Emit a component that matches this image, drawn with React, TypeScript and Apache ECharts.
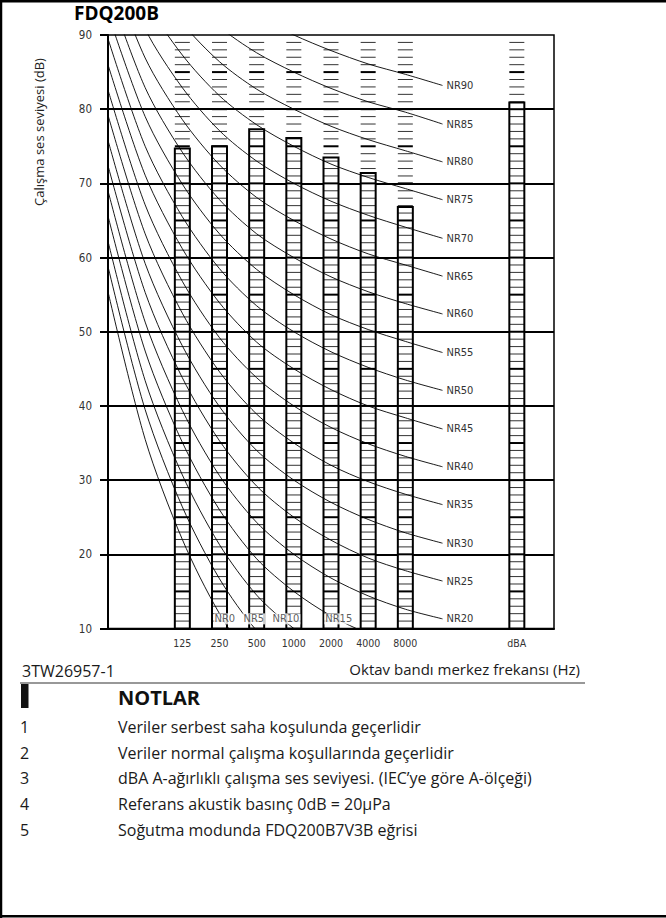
import React, { useEffect, useRef } from "react";
import * as echarts from "echarts";

// ---------- data ----------
const bandLabels = ["125", "250", "500", "1000", "2000", "4000", "8000"];
const bandPositions = [2, 3, 4, 5, 6, 7, 8];
const bandLevels = [74.7, 75.0, 77.3, 76.1, 73.5, 71.4, 66.8];
const dbaLabel = "dBA";
const dbaPosition = 11;
const dbaLevel = 80.9;

// NR curve points at 31.5, 63, 125, 250, 500, 1000, 2000, 4000, 8000 Hz
const curvePositions = [0, 1, 2, 3, 4, 5, 6, 7, 8];
const nrLevels = [0, 5, 10, 15, 20, 25, 30, 35, 40, 45, 50, 55, 60, 65, 70, 75, 80, 85, 90];
const nrCurves = [
  [55.4, 35.5, 22.0, 12.0, 4.8, 0, -3.5, -6.1, -8.0],
  [58.8, 39.5, 26.4, 16.7, 9.7, 5, 1.6, -1.0, -2.9],
  [62.2, 43.4, 30.7, 21.3, 14.5, 10, 6.7, 4.2, 2.3],
  [65.6, 47.4, 35.1, 26.0, 19.4, 15, 11.7, 9.3, 7.5],
  [69.0, 51.3, 39.4, 30.6, 24.3, 20, 16.8, 14.4, 12.6],
  [72.4, 55.3, 43.8, 35.3, 29.2, 25, 21.9, 19.5, 17.8],
  [75.8, 59.2, 48.1, 39.9, 34.0, 30, 27.0, 24.7, 22.9],
  [79.2, 63.2, 52.5, 44.6, 38.9, 35, 32.0, 29.8, 28.1],
  [82.6, 67.1, 56.8, 49.2, 43.8, 40, 37.1, 34.9, 33.2],
  [86.0, 71.1, 61.2, 53.9, 48.6, 45, 42.2, 40.0, 38.4],
  [89.5, 75.0, 65.5, 58.5, 53.5, 50, 47.3, 45.2, 43.5],
  [92.9, 79.0, 69.9, 63.2, 58.4, 55, 52.3, 50.3, 48.7],
  [96.3, 82.9, 74.2, 67.8, 63.2, 60, 57.4, 55.4, 53.8],
  [99.7, 86.9, 78.6, 72.5, 68.1, 65, 62.5, 60.5, 59.0],
  [103.1, 90.8, 82.9, 77.1, 73.0, 70, 67.6, 65.7, 64.1],
  [106.5, 94.8, 87.3, 81.8, 77.9, 75, 72.6, 70.8, 69.3],
  [109.9, 98.7, 91.6, 86.4, 82.7, 80, 77.7, 75.9, 74.4],
  [113.3, 102.7, 96.0, 91.1, 87.6, 85, 82.8, 81.0, 79.6],
  [116.7, 106.6, 100.3, 95.7, 92.5, 90, 87.9, 86.1, 84.7],
];
// right-hand label anchors (NR20 ... NR90)
const nrLabelPosition = 9;
const nrLabelLevels = [null, null, null, null, 11.3, 16.4, 21.5, 26.7, 31.8, 36.9, 42.1, 47.2, 52.4, 57.5, 62.6, 67.8, 72.9, 78.0, 83.2];
// bottom labels (NR0 ... NR15)
const bottomLabelNames = ["NR0", "NR5", "NR10", "NR15"];
const bottomLabelPositions = [2.84, 3.62, 4.4, 5.82];
const bottomLabelLevel = 11.3;

const yMin = 10;
const yMax = 90;
const yStep = 10;
const xMin = 0;
const xMax = 12;

const titleText = "FDQ200B";
const yAxisTitle = "Çalışma ses seviyesi (dB)";
const xAxisTitle = "Oktav bandı merkez frekansı (Hz)";
const drawingCode = "3TW26957-1";
const notesTitle = "NOTLAR";
const noteNumbers = ["1", "2", "3", "4", "5"];
const noteTexts = [
  "Veriler serbest saha koşulunda geçerlidir",
  "Veriler normal çalışma koşullarında geçerlidir",
  "dBA A-ağırlıklı çalışma ses seviyesi. (IEC’ye göre A-ölçeği)",
  "Referans akustik basınç 0dB = 20µPa",
  "Soğutma modunda FDQ200B7V3B eğrisi",
];

const NARROW = '"Liberation Sans Narrow", "DejaVu Sans Condensed", "Arial Narrow", sans-serif';
const HUMAN = '"Open Sans", "Noto Sans", sans-serif';

export default function App() {
  const ref = useRef<HTMLDivElement>(null);

  useEffect(() => {
    if (!ref.current) return;
    const chart = echarts.init(ref.current, undefined, { renderer: "svg" });

    const xLabelMap: Record<number, string> = {};
    bandPositions.forEach((p, i) => (xLabelMap[p] = bandLabels[i]));
    xLabelMap[dbaPosition] = dbaLabel;

    const barData = bandPositions.map((p, i) => [p, bandLevels[i]]);
    barData.push([dbaPosition, dbaLevel]);

    const BAR_W = 15;

    const barSeries = {
      type: "custom",
      z: 2,
      data: barData,
      encode: { x: 0, y: 1 },
      renderItem: (params: any, api: any) => {
        const x = api.value(0);
        const v = api.value(1);
        const top = api.coord([x, v]);
        const base = api.coord([x, yMin]);
        const left = top[0] - BAR_W / 2;
        const children: any[] = [];
        children.push({
          type: "rect",
          shape: { x: left, y: top[1], width: BAR_W, height: base[1] - top[1] },
          style: { fill: "#fff" },
        });
        for (let d = yMin + 1; d < yMax; d++) {
          const y = api.coord([x, d])[1];
          const major = d % 5 === 0;
          children.push({
            type: "line",
            shape: { x1: left, y1: y, x2: left + BAR_W, y2: y },
            style: { stroke: major ? "#000" : "#333", lineWidth: major ? 2 : 1 },
          });
        }
        children.push({
          type: "rect",
          shape: { x: left, y: top[1], width: BAR_W, height: base[1] - top[1] },
          style: { fill: "none", stroke: "#000", lineWidth: 2 },
        });
        return { type: "group", children };
      },
    };

    const lineSeries = nrLevels.map((lvl, i) => {
      const pts: any[] = curvePositions.map((p, j) => [p, nrCurves[i][j]]);
      const lab = nrLabelLevels[i];
      if (lab !== null) pts.push([nrLabelPosition, lab]);
      return {
        type: "line",
        name: "NR" + lvl,
        z: 3,
        data: pts,
        showSymbol: false,
        symbol: "none",
        smooth: 0.3,
        clip: true,
        silent: true,
        lineStyle: { color: "#000", width: 0.9 },
        endLabel: {
          show: lab !== null,
          formatter: "NR" + lvl,
          distance: 4,
          color: "#333",
          fontSize: 11,
          fontFamily: NARROW,
        },
      };
    });

    const bottomLabels = {
      type: "scatter",
      z: 5,
      symbolSize: 0,
      silent: true,
      data: bottomLabelNames.map((n, i) => ({ name: n, value: [bottomLabelPositions[i], bottomLabelLevel] })),
      label: {
        show: true,
        position: "right",
        distance: 0,
        formatter: (p: any) => p.name,
        color: "#333",
        fontSize: 11,
        fontFamily: NARROW,
        backgroundColor: "#fff",
        padding: [0, 1, 0, 1],
      },
    };

    const noteGraphics: any[] = [];
    noteNumbers.forEach((n, i) => {
      const y = 727 + i * 25.7;
      noteGraphics.push({
        type: "text",
        x: 20,
        y,
        style: { text: n, fontSize: 16, fontFamily: HUMAN, fill: "#1a1a1a", verticalAlign: "middle" },
      });
      noteGraphics.push({
        type: "text",
        x: 118,
        y,
        style: { text: noteTexts[i], fontSize: 16, fontFamily: HUMAN, fill: "#1a1a1a", verticalAlign: "middle" },
      });
    });

    chart.setOption({
      animation: false,
      backgroundColor: "#fff",
      grid: {
        left: 108,
        top: 35,
        right: 112,
        bottom: 289.5,
        show: true,
        borderColor: "#000",
        borderWidth: 1.5,
        backgroundColor: "transparent",
      },
      xAxis: {
        type: "value",
        min: xMin,
        max: xMax,
        interval: 1,
        axisLine: { show: true, onZero: false, lineStyle: { color: "#000", width: 2 } },
        axisTick: { show: false },
        splitLine: { show: false },
        axisLabel: {
          margin: 9,
          fontSize: 10.5,
          fontFamily: NARROW,
          color: "#333",
          formatter: (v: number) => xLabelMap[v] ?? "",
        },
      },
      yAxis: {
        type: "value",
        min: yMin,
        max: yMax,
        interval: yStep,
        axisLine: { show: true, lineStyle: { color: "#000", width: 2 } },
        axisTick: { show: true, length: 8, lineStyle: { color: "#000", width: 2 } },
        splitLine: { show: true, showMaxLine: false, showMinLine: false, lineStyle: { color: "#000", width: 2 } },
        axisLabel: { margin: 16, fontSize: 11.5, fontFamily: NARROW, color: "#333" },
      },
      series: [barSeries, ...lineSeries, bottomLabels],
      graphic: [
        // page frame
        { type: "line", shape: { x1: 1, y1: 0, x2: 1, y2: 918 }, style: { stroke: "#000", lineWidth: 2.5 } },
        { type: "line", shape: { x1: 0, y1: 1.2, x2: 666, y2: 1.2 }, style: { stroke: "#000", lineWidth: 2.5 } },
        { type: "line", shape: { x1: 0, y1: 916.3, x2: 666, y2: 916.3 }, style: { stroke: "#000", lineWidth: 2.5 } },
        // title
        {
          type: "text",
          left: 74,
          top: 3,
          style: { text: titleText, fontSize: 19, fontWeight: "bold", fontFamily: HUMAN, fill: "#000" },
        },
        // y axis title
        {
          type: "text",
          x: 39,
          y: 132,
          rotation: Math.PI / 2,
          style: {
            text: yAxisTitle,
            fontSize: 13,
            fontFamily: HUMAN,
            fill: "#222",
            align: "center",
            verticalAlign: "middle",
          },
        },
        // x axis title
        {
          type: "text",
          x: 580,
          y: 669,
          style: {
            text: xAxisTitle,
            fontSize: 15,
            fontFamily: HUMAN,
            fill: "#1a1a1a",
            align: "right",
            verticalAlign: "middle",
          },
        },
        {
          type: "text",
          x: 22,
          y: 671,
          style: { text: drawingCode, fontSize: 16, fontFamily: HUMAN, fill: "#1a1a1a", verticalAlign: "middle" },
        },
        { type: "line", shape: { x1: 20, y1: 683, x2: 585, y2: 683 }, style: { stroke: "#333", lineWidth: 1.2 } },
        { type: "rect", shape: { x: 21, y: 684, width: 7.5, height: 24 }, style: { fill: "#111" } },
        {
          type: "text",
          x: 118,
          y: 697,
          style: {
            text: notesTitle,
            fontSize: 20,
            fontWeight: "bold",
            fontFamily: HUMAN,
            fill: "#111",
            verticalAlign: "middle",
          },
        },
        ...noteGraphics,
      ],
    });

    return () => chart.dispose();
  }, []);

  return <div ref={ref} style={{ position: "fixed", left: 0, top: 0, width: 666, height: 918 }} />;
}
